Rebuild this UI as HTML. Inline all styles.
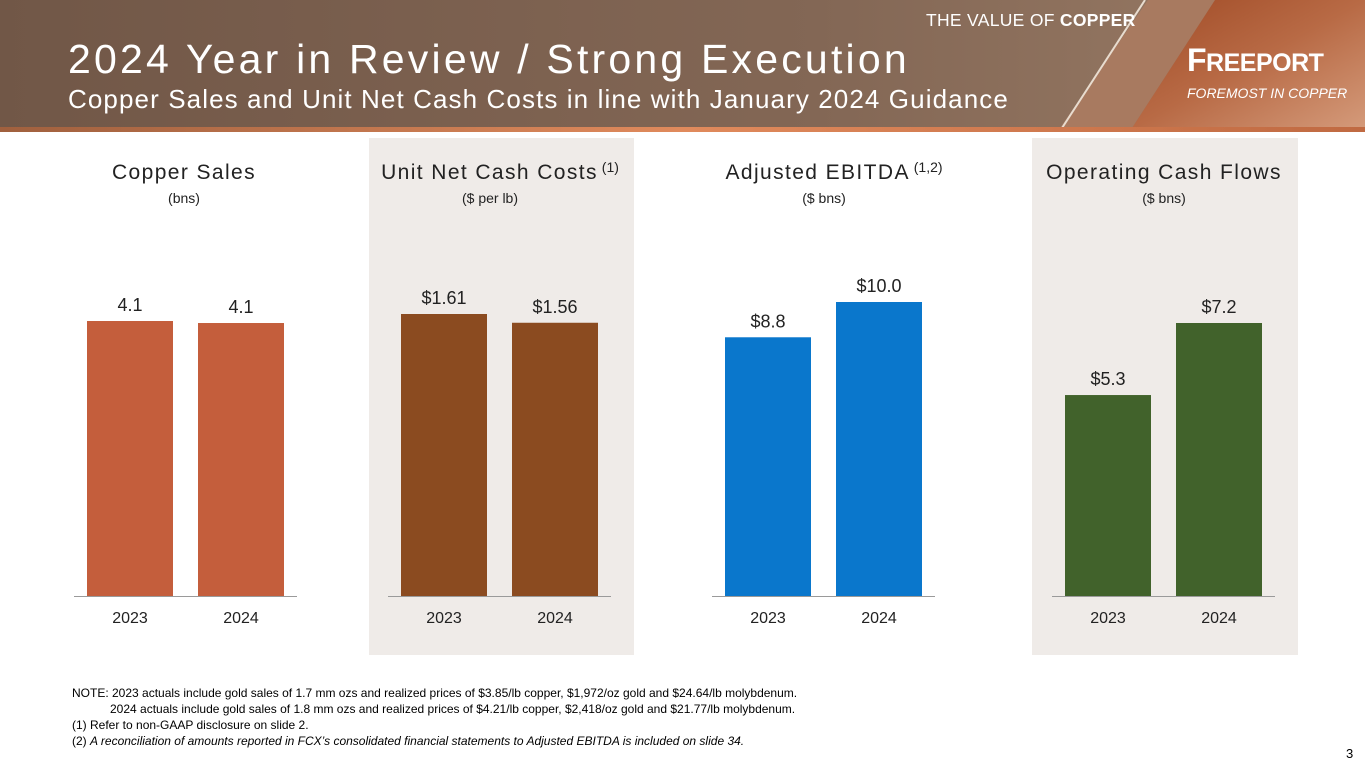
<!DOCTYPE html>
<html><head><meta charset="utf-8">
<style>
html,body{margin:0;padding:0;width:1365px;height:768px;overflow:hidden;background:#fff;font-family:"Liberation Sans",sans-serif;}
.abs{position:absolute;}
</style></head>
<body>
<div class="abs" style="left:0;top:0;width:1365px;height:768px;">
<svg class="abs" style="left:0;top:0" width="1365" height="134">
<defs>
<linearGradient id="hg" x1="0" y1="0" x2="1" y2="0"><stop offset="0" stop-color="#715747"/><stop offset="0.6" stop-color="#836755"/><stop offset="1" stop-color="#9a7c66"/></linearGradient>
<linearGradient id="cg" x1="0" y1="0" x2="1" y2="1"><stop offset="0" stop-color="#a04a25"/><stop offset="0.5" stop-color="#b86a45"/><stop offset="1" stop-color="#d49a7a"/></linearGradient>
<linearGradient id="lg" x1="0" y1="0" x2="1" y2="0"><stop offset="0" stop-color="#a0603e"/><stop offset="0.5" stop-color="#e08a5c"/><stop offset="1" stop-color="#c06a42"/></linearGradient>
</defs>
<rect x="0" y="0" width="1365" height="128" fill="url(#hg)"/>
<polygon points="1148,0 1215,0 1132,128 1060,128" fill="#a87a60"/>
<polygon points="1215,0 1365,0 1365,128 1132,128" fill="url(#cg)"/>
<line x1="1145" y1="0" x2="1062" y2="128" stroke="#e8dccf" stroke-width="2"/>
<rect x="0" y="127" width="1365" height="5" fill="url(#lg)"/>
</svg>
<div class="abs" style="left:926px;top:10px;color:#fff;font-size:17.5px;letter-spacing:0.3px;">THE VALUE OF <b>COPPER</b></div>
<div class="abs" style="left:68px;top:36px;color:#fff;font-size:41px;letter-spacing:3.2px;white-space:nowrap;">2024 Year in Review / Strong Execution</div>
<div class="abs" style="left:68px;top:84px;color:#fff;font-size:26px;letter-spacing:1.1px;white-space:nowrap;">Copper Sales and Unit Net Cash Costs in line with January 2024 Guidance</div>
<div class="abs" style="left:1187px;top:42px;color:#fff;font-size:32px;font-weight:bold;letter-spacing:-0.5px;">F<span style="font-size:25px">REEPORT</span></div>
<div class="abs" style="left:1187px;top:85px;color:#fff;font-size:14px;font-style:italic;">FOREMOST IN COPPER</div>

<div class="abs" style="left:369px;top:138px;width:265px;height:517px;background:#efebe8;"></div>
<div class="abs" style="left:1032px;top:138px;width:266px;height:517px;background:#efebe8;"></div>

<svg id="charts" class="abs" style="left:0;top:0" width="1365" height="680"></svg>

<div class="abs" style="left:72px;top:685px;font-size:12px;line-height:16px;color:#000;white-space:nowrap;">
<div>NOTE: 2023 actuals include gold sales of 1.7 mm ozs and realized prices of $3.85/lb copper, $1,972/oz gold and $24.64/lb molybdenum.</div>
<div style="padding-left:38px">2024 actuals include gold sales of 1.8 mm ozs and realized prices of $4.21/lb copper, $2,418/oz gold and $21.77/lb molybdenum.</div>
<div>(1) Refer to non-GAAP disclosure on slide 2.</div>
<div>(2) <i>A reconciliation of amounts reported in FCX’s consolidated financial statements to Adjusted EBITDA is included on slide 34.</i></div>
</div>
<div class="abs" style="left:1346px;top:746px;font-size:13px;">3</div>
</div>
<script>
const categories = ["2023", "2024"];
const copperValues = [4.1, 4.07];
const copperLabels = ["4.1", "4.1"];
const costValues = [1.61, 1.56];
const costLabels = ["$1.61", "$1.56"];
const ebitdaValues = [8.8, 10.0];
const ebitdaLabels = ["$8.8", "$10.0"];
const ocfValues = [5.3, 7.2];
const ocfLabels = ["$5.3", "$7.2"];

const NS = "http://www.w3.org/2000/svg";
const svg = document.getElementById('charts');
const baseY = 596;
const panels = [
 {key:'copper-sales', title:'Copper Sales', sup:'', unit:'(bns)', vals:copperValues, labels:copperLabels, color:'#c45e3c', x0:74, cx:184, max:4.1, maxPx:275},
 {key:'unit-net-cash-costs', title:'Unit Net Cash Costs', sup:' (1)', unit:'($ per lb)', vals:costValues, labels:costLabels, color:'#8b4b20', x0:388, cx:500, max:1.61, maxPx:282},
 {key:'adjusted-ebitda', title:'Adjusted EBITDA', sup:' (1,2)', unit:'($ bns)', vals:ebitdaValues, labels:ebitdaLabels, color:'#0a77cc', x0:712, cx:834, max:10, maxPx:294},
 {key:'operating-cash-flows', title:'Operating Cash Flows', sup:'', unit:'($ bns)', vals:ocfValues, labels:ocfLabels, color:'#41622b', x0:1052, cx:1164, max:7.2, maxPx:273}
];
function mk(tag, attrs){const e=document.createElementNS(NS,tag);for(const k in attrs)e.setAttribute(k,attrs[k]);svg.appendChild(e);return e;}
panels.forEach(p=>{
  const yScale = v => baseY - v/p.max*p.maxPx;
  const xBand = i => p.x0 + 13 + i*111;
  const bw = 86;
  const t = mk('text',{x:p.cx,y:179,'text-anchor':'middle','font-size':21,'letter-spacing':1.4,fill:'#222'});
  
  
  t.textContent = p.title;
  if(p.sup){const s=document.createElementNS(NS,'tspan');s.setAttribute('font-size',14);s.setAttribute('dy',-7);s.setAttribute('letter-spacing',0);s.textContent=p.sup;t.appendChild(s);}
  const u = mk('text',{x:p.cx - (p.sup? 10:0),y:203,'text-anchor':'middle','font-size':14,fill:'#222'});
  
  
  u.textContent = p.unit;
  p.vals.forEach((v,i)=>{
    const x = xBand(i), y = yScale(v);
    const r = mk('rect',{x:x,y:y,width:bw,height:baseY-y,fill:p.color});
    
    
    const l = mk('text',{x:x+bw/2,y:y-10,'text-anchor':'middle','font-size':18,fill:'#222'});
    
    
    l.textContent = p.labels[i];
    const c = mk('text',{x:x+bw/2,y:623,'text-anchor':'middle','font-size':16,fill:'#222'});
    
    
    c.textContent = categories[i];
  });
  const ax = mk('line',{x1:p.x0,x2:p.x0+223,y1:baseY+0.5,y2:baseY+0.5,stroke:'#9a9a9a','stroke-width':1});
  
  
});
</script>
</body></html>
